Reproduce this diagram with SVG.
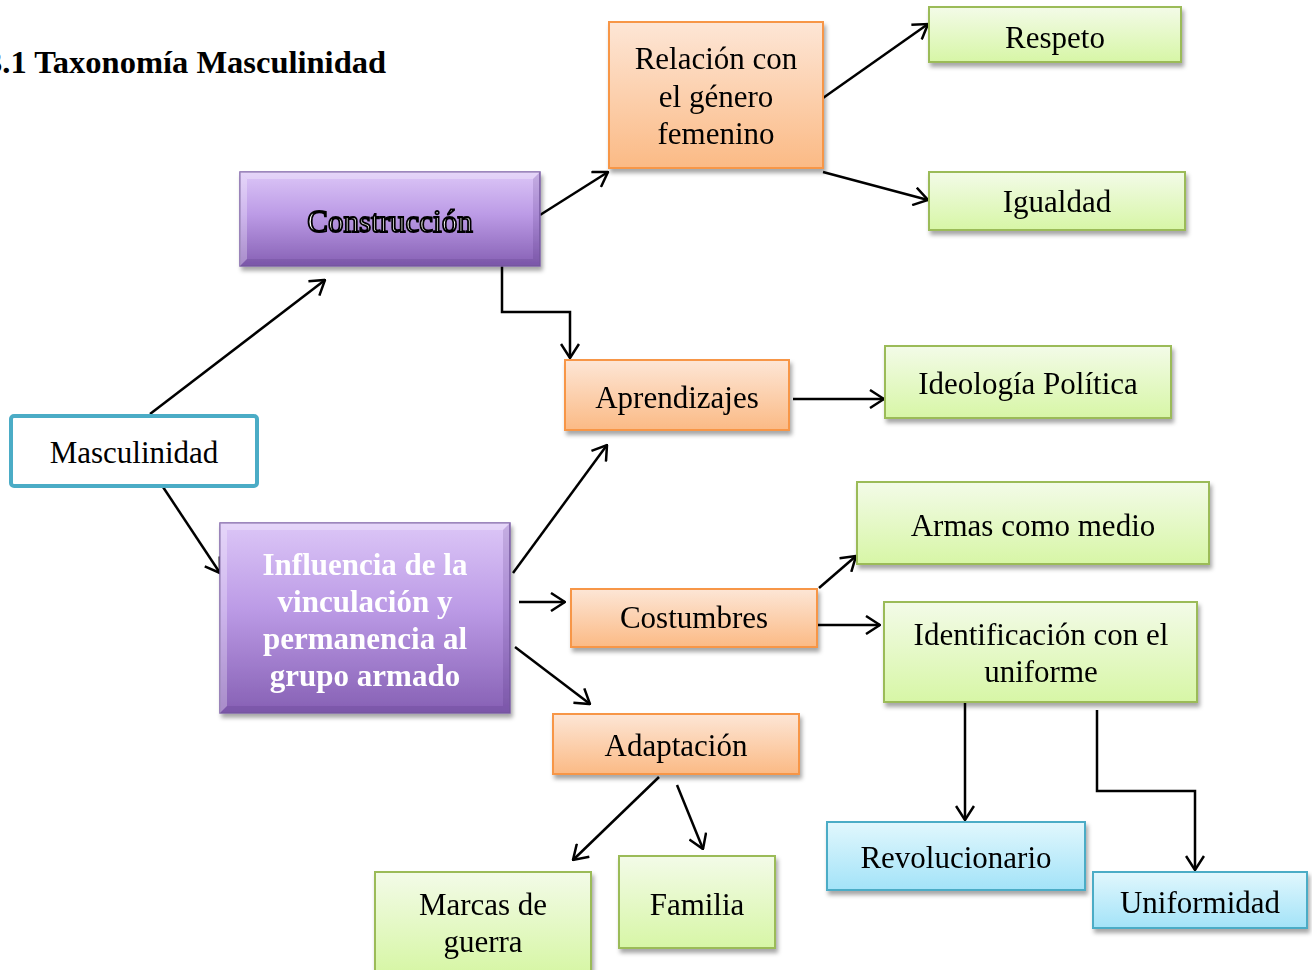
<svg xmlns="http://www.w3.org/2000/svg" width="1312" height="970" viewBox="0 0 1312 970">
<defs>
<style>
text{font-family:"Liberation Serif","Times New Roman",serif;font-size:31px;fill:#000;text-anchor:middle}
.title{font-weight:bold;text-anchor:start;font-size:32.5px}
.bw{font-weight:bold;fill:#fff}
.outl{fill:#fff;stroke:#000;stroke-width:1.8px}
.or{fill:url(#gOr);stroke:#F79646;stroke-width:2}
.gr{fill:url(#gGr);stroke:#9BBB59;stroke-width:2}
.bl{fill:url(#gBl);stroke:#4BACC6;stroke-width:2}
.pu{fill:url(#gPu);stroke:#7F62A8;stroke-width:1.5}
.lt{fill:#fff;opacity:0.28}
.dk{fill:#3c1f66;opacity:0.14}
.c{fill:none;stroke:#000;stroke-width:2.5;marker-end:url(#ah)}
</style>
<linearGradient id="gOr" x1="0" y1="0" x2="0" y2="1"><stop offset="0" stop-color="#FDE6D6"/><stop offset="1" stop-color="#FBBA85"/></linearGradient>
<linearGradient id="gGr" x1="0" y1="0" x2="0" y2="1"><stop offset="0" stop-color="#F3FBE8"/><stop offset="1" stop-color="#D7F6A6"/></linearGradient>
<linearGradient id="gBl" x1="0" y1="0" x2="0" y2="1"><stop offset="0" stop-color="#E1F7FD"/><stop offset="1" stop-color="#A3E3F8"/></linearGradient>
<linearGradient id="gPu" x1="0" y1="0" x2="0" y2="1"><stop offset="0" stop-color="#DCC6F7"/><stop offset="0.45" stop-color="#BC9BE6"/><stop offset="1" stop-color="#8660B4"/></linearGradient>
<filter id="sh" x="-10%" y="-10%" width="125%" height="130%"><feDropShadow dx="2" dy="4" stdDeviation="2.2" flood-color="#000" flood-opacity="0.35"/></filter>
<marker id="ah" viewBox="0 0 16 20" refX="15" refY="10" markerWidth="16" markerHeight="20" markerUnits="userSpaceOnUse" orient="auto"><path d="M1,1 L15,10 L1,19" fill="none" stroke="#000" stroke-width="2.5"/></marker>
</defs>
<rect width="1312" height="970" fill="#fff"/>
<text class="title" x="-14" y="73">3.1 Taxonomía Masculinidad</text>

<g id="connectors">
<path class="c" d="M150,414 L325,280"/>
<path class="c" d="M163,487 L220,573"/>
<path class="c" d="M540,215 L608,172"/>
<path class="c" d="M502,266 L502,312 L570,312 L570,358"/>
<path class="c" d="M823,98 L928,24"/>
<path class="c" d="M823,172 L928,200"/>
<path class="c" d="M793,399 L884,399"/>
<path class="c" d="M513,573 L607,445"/>
<path class="c" d="M519,602 L565,602"/>
<path class="c" d="M515,647 L590,704"/>
<path class="c" d="M819,588 L856,556"/>
<path class="c" d="M813,625 L880,625"/>
<path class="c" d="M659,777 L573,860"/>
<path class="c" d="M677,785 L703,849"/>
<path class="c" d="M965,703 L965,820"/>
<path class="c" d="M1097,710 L1097,791 L1195,791 L1195,870"/>
</g>

<g id="masculinidad">
<rect x="11" y="416" width="246" height="70" rx="3" fill="#fff" stroke="#4BACC6" stroke-width="4"/>
<text x="134" y="463">Masculinidad</text>
</g>

<g id="construccion" filter="url(#sh)">
<rect class="pu" x="240" y="172" width="300" height="94"/>
<polygon class="lt" points="240,172 540,172 533,179 247,179"/>
<polygon class="lt" points="240,172 247,179 247,259 240,266"/>
<polygon class="dk" points="540,172 540,266 533,259 533,179"/>
<polygon class="dk" points="240,266 540,266 533,259 247,259"/>
<text class="outl" x="390" y="232">Construcción</text>
</g>

<g id="influencia" filter="url(#sh)">
<rect class="pu" x="220" y="523" width="290" height="190"/>
<polygon class="lt" points="220,523 510,523 503,530 227,530"/>
<polygon class="lt" points="220,523 227,530 227,706 220,713"/>
<polygon class="dk" points="510,523 510,713 503,706 503,530"/>
<polygon class="dk" points="220,713 510,713 503,706 227,706"/>
<text class="bw" x="365" y="575">Influencia de la</text>
<text class="bw" x="365" y="612">vinculación y</text>
<text class="bw" x="365" y="649">permanencia al</text>
<text class="bw" x="365" y="686">grupo armado</text>
</g>

<g id="relacion" filter="url(#sh)">
<rect class="or" x="609" y="22" width="214" height="146"/>
<text x="716" y="69">Relación con</text>
<text x="716" y="107">el género</text>
<text x="716" y="144">femenino</text>
</g>

<g id="respeto" filter="url(#sh)">
<rect class="gr" x="929" y="7" width="252" height="55"/>
<text x="1055" y="48">Respeto</text>
</g>

<g id="igualdad" filter="url(#sh)">
<rect class="gr" x="929" y="172" width="256" height="58"/>
<text x="1057" y="212">Igualdad</text>
</g>

<g id="aprendizajes" filter="url(#sh)">
<rect class="or" x="565" y="360" width="224" height="70"/>
<text x="677" y="408">Aprendizajes</text>
</g>

<g id="ideologia" filter="url(#sh)">
<rect class="gr" x="885" y="346" width="286" height="72"/>
<text x="1028" y="394">Ideología Política</text>
</g>

<g id="armas" filter="url(#sh)">
<rect class="gr" x="857" y="482" width="352" height="82"/>
<text x="1033" y="536">Armas como medio</text>
</g>

<g id="costumbres" filter="url(#sh)">
<rect class="or" x="571" y="589" width="246" height="58"/>
<text x="694" y="628">Costumbres</text>
</g>

<g id="identificacion" filter="url(#sh)">
<rect class="gr" x="884" y="602" width="313" height="100"/>
<text x="1041" y="645">Identificación con el</text>
<text x="1041" y="682">uniforme</text>
</g>

<g id="adaptacion" filter="url(#sh)">
<rect class="or" x="553" y="714" width="246" height="60"/>
<text x="676" y="756">Adaptación</text>
</g>

<g id="marcas" filter="url(#sh)">
<rect class="gr" x="375" y="872" width="216" height="100"/>
<text x="483" y="915">Marcas de</text>
<text x="483" y="952">guerra</text>
</g>

<g id="familia" filter="url(#sh)">
<rect class="gr" x="619" y="856" width="156" height="92"/>
<text x="697" y="915">Familia</text>
</g>

<g id="revolucionario" filter="url(#sh)">
<rect class="bl" x="827" y="822" width="258" height="68"/>
<text x="956" y="868">Revolucionario</text>
</g>

<g id="uniformidad" filter="url(#sh)">
<rect class="bl" x="1093" y="872" width="214" height="56"/>
<text x="1200" y="913">Uniformidad</text>
</g>
</svg>
